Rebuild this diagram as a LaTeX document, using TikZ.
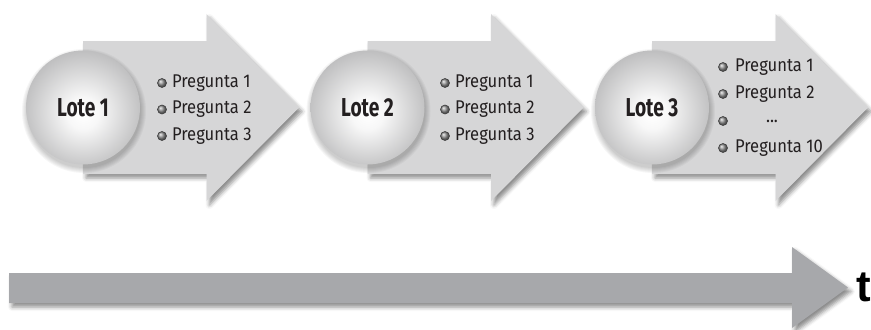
\documentclass[tikz,border=0pt]{standalone}
\usepackage{fontspec}
\setmainfont{Fira Sans}[FakeStretch=0.9]
\newfontfamily\lotefont{Fira Sans}[FakeStretch=0.74]
\usetikzlibrary{shadows.blur, positioning}

\definecolor{arrowgray}{RGB}{214,214,215}
\definecolor{timegray}{RGB}{167,168,171}
\definecolor{ballgray}{RGB}{128,128,130}
\definecolor{textdark}{RGB}{35,31,32}

\pgfdeclareradialshading{lote}{\pgfpoint{0bp}{-3bp}}{color(0bp)=(white); color(7bp)=(white!94!ballgray); color(27bp)=(white!48!ballgray); color(50bp)=(ballgray)}

\begin{document}
\begin{tikzpicture}[x=1bp, y=1bp,
  lotebox/.style={fill=arrowgray, blur shadow={shadow xshift=3bp, shadow yshift=-4bp, shadow blur radius=4bp, shadow opacity=45}},
  timebox/.style={fill=timegray, blur shadow={shadow xshift=3bp, shadow yshift=-4bp, shadow blur radius=4bp, shadow opacity=45}},
  lote/.style={circle, minimum size=114bp, inner sep=0pt, shading=lote, font=\lotefont\bfseries\fontsize{26}{26}\selectfont, text=textdark},
  dot/.style={circle, minimum size=9bp, inner sep=0pt, ball color=gray!85, draw=gray!50!black, line width=0.6bp},
  item/.style={font=\fontsize{18.5}{18.5}\selectfont, text=textdark, inner sep=0pt}]
  \useasboundingbox (0,0) rectangle (871,329);

  % stage arrows
  \foreach \x in {83, 367.5, 652}
    \fill[lotebox] (\x,155) -- ({\x+123.5},155) -- ({\x+123.5},128) -- ({\x+216},221.5)
      -- ({\x+123.5},315) -- ({\x+123.5},288) -- (\x,288) -- cycle;

  % time arrow
  \coordinate (tip) at (848,41.5);
  \fill[timebox] (9,26) -- (792,26) -- (792,1) -- (tip) -- (792,82) -- (792,56) -- (9,56) -- cycle;
  \node[anchor=west, inner sep=0pt, font=\fontspec{Liberation Sans}\bfseries\fontsize{44}{44}\selectfont, text=black] (t) at ([xshift=8bp]tip) {t};

  % soft shade under the batch balls
  \foreach \x in {83, 367.5, 652}
    \foreach \r in {57,58,...,62}
      \fill[black, opacity=0.035] (\x+1,218) circle (\r bp);

  % batches
  \node[lote] (l1) at (83,221.5) {Lote 1};
  \node[lote] (l2) at (367.5,221.5) {Lote 2};
  \node[lote] (l3) at (652,221.5) {Lote 3};

  % questions of batch 1
  \node[dot] (b11) at (162,246) {};
  \node[dot] (b12) at (162,219.5) {};
  \node[dot] (b13) at (162,193) {};
  \node[item, right=5bp of b11] {Pregunta 1};
  \node[item, right=5bp of b12] {Pregunta 2};
  \node[item, right=5bp of b13] {Pregunta 3};

  % questions of batch 2
  \node[dot] (b21) at (445,246) {};
  \node[dot] (b22) at (445,219.5) {};
  \node[dot] (b23) at (445,193) {};
  \node[item, right=5bp of b21] {Pregunta 1};
  \node[item, right=5bp of b22] {Pregunta 2};
  \node[item, right=5bp of b23] {Pregunta 3};

  % questions of batch 3
  \node[dot] (b31) at (723,262) {};
  \node[dot] (b32) at (723,235) {};
  \node[dot] (b33) at (723,208) {};
  \node[dot] (b34) at (723,181) {};
  \node[item, right=7bp of b31] {Pregunta 1};
  \node[item, right=7bp of b32] {Pregunta 2};
  \node[item] at (772,208) {...};
  \node[item, right=7bp of b34] {Pregunta 10};
\end{tikzpicture}
\end{document}
